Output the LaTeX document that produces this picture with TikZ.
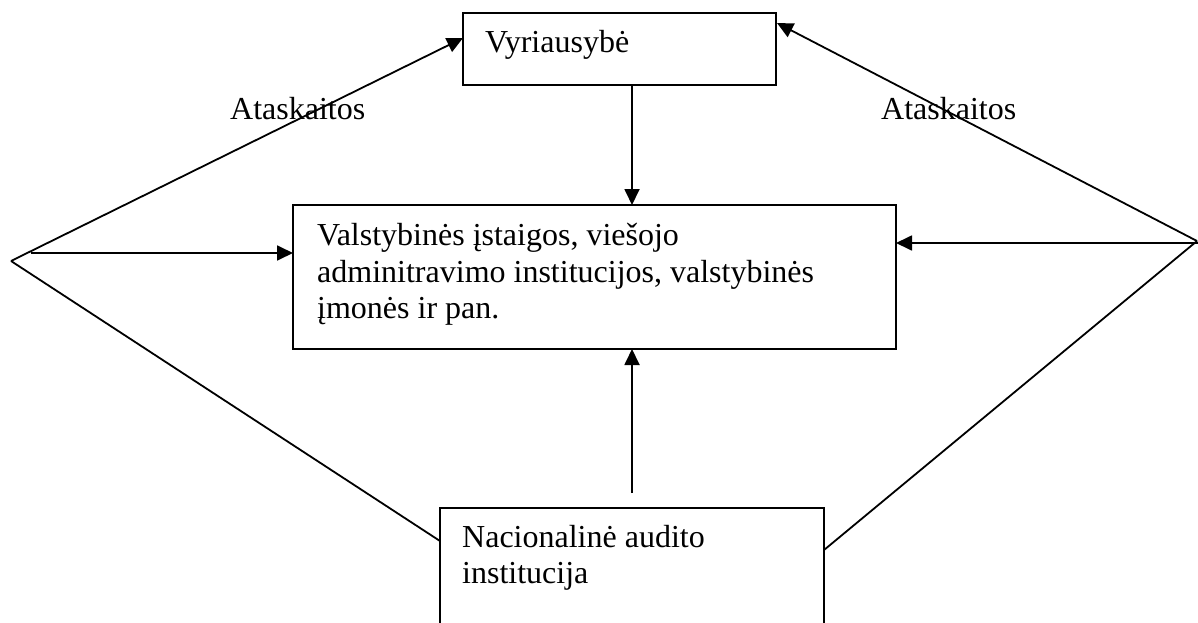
\documentclass[tikz,border=0pt]{standalone}
\usepackage{fontspec}
\setmainfont{Liberation Serif}
\usetikzlibrary{arrows.meta}
\begin{document}
\begin{tikzpicture}[x=1pt,y=-1pt,
  box/.style={draw=black, line width=1.8pt, inner sep=0pt, outer sep=0pt, anchor=north west},
  lbl/.style={inner sep=0pt, anchor=base west, font=\fontsize{32}{37}\selectfont},
  conn/.style={line width=1.8pt},
  arr/.style={conn, -{Triangle[length=16pt,width=15pt]}}]
\clip (0,0) rectangle (1198,623);
\fill[white] (0,0) rectangle (1198,623);
% boxes
\node[box, minimum width=313pt, minimum height=72pt] (gov) at (463,13) {};
\node[box, minimum width=603pt, minimum height=144pt] (inst) at (293,205) {};
\node[box, minimum width=384pt, minimum height=160pt] (nao) at (440,508) {};
% texts
\node[lbl] (govt) at (485,53) {Vyriausybė};
\node[lbl] (instt1) at (317,245) {Valstybinės įstaigos, viešojo};
\node[lbl] (instt2) at (317,282) {adminitravimo institucijos, valstybinės};
\node[lbl] (instt3) at (317,318) {įmonės ir pan.};
\node[lbl] (naot1) at (462,547) {Nacionalinė audito};
\node[lbl] (naot2) at (462,583) {institucija};
\node[lbl] (repL) at (230,119) {Ataskaitos};
\node[lbl] (repR) at (881,119) {Ataskaitos};
% connector points
\coordinate (L) at (11,261);
\coordinate (Lh) at (31,253);
\coordinate (R) at (1197,241);
\coordinate (Rh) at (1198,243);
\coordinate (govL) at (463,38);
\coordinate (govR) at (777,23);
\coordinate (govB) at (632,85);
\coordinate (instT) at (632,205);
\coordinate (instB) at (632,349);
\coordinate (instL) at (293,253);
\coordinate (instR) at (896,243);
\coordinate (naoUp) at (632,493);
\coordinate (naoL) at (440,541);
\coordinate (naoR) at (824,550);
% connectors
\draw[arr] (L) -- (govL);
\draw[conn] (L) -- (naoL);
\draw[arr] (Lh) -- (instL);
\draw[arr] (R) -- (govR);
\draw[conn] (R) -- (naoR);
\draw[arr] (Rh) -- (instR);
\draw[arr] (govB) -- (instT);
\draw[arr] (naoUp) -- (instB);
\end{tikzpicture}
\end{document}
